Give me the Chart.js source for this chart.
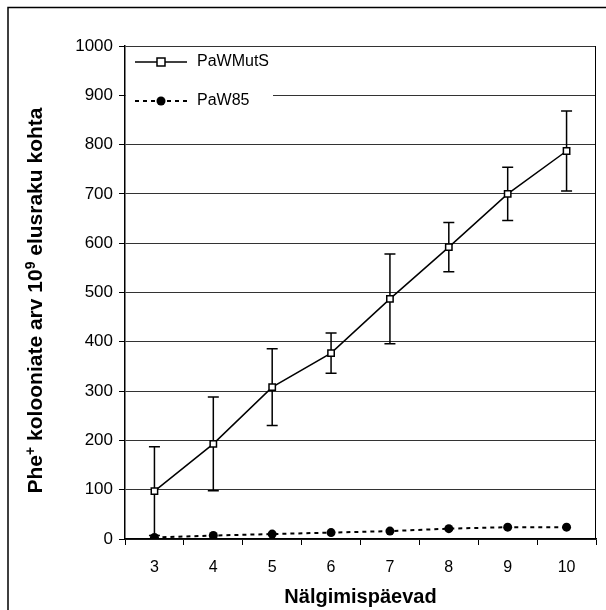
<!DOCTYPE html>
<html>
<head>
<meta charset="utf-8">
<script src="https://cdn.jsdelivr.net/npm/chart.js@4"></script>
<style>
  html, body { margin: 0; padding: 0; background: #fff; }
  canvas { display: block; }
</style>
</head>
<body>
<canvas id="chart" width="606" height="610"></canvas>
<script>
const days = ['3', '4', '5', '6', '7', '8', '9', '10'];
const mutS = [97, 193, 308, 377, 487, 592, 700, 787];
const mutSErr = [90, 95, 78, 41, 91, 50, 54, 81];
const w85 = [3, 7, 10, 13, 16, 21, 24, 24];
const yTicks = [0, 100, 200, 300, 400, 500, 600, 700, 800, 900, 1000];

const FONT = "'Liberation Sans', Arial, sans-serif";

// error bars, legend box, frame and the rotated y title with superscripts
const overlay = {
  id: 'overlay',
  beforeDatasetsDraw(chart) {
    const ctx = chart.ctx;
    const x = chart.scales.x, y = chart.scales.y;
    const area = chart.chartArea;

    // legend box (covers gridlines)
    ctx.save();
    ctx.fillStyle = '#fff';
    ctx.fillRect(area.left + 1, area.top + 1, 147, 72);
    const items = [
      { label: chart.data.datasets[0].label, y: area.top + 16, dash: [], marker: 'rect' },
      { label: chart.data.datasets[1].label, y: area.top + 55, dash: [4, 4], marker: 'circle' }
    ];
    items.forEach(it => {
      ctx.strokeStyle = '#000';
      ctx.lineWidth = it.dash.length ? 2 : 1.5;
      ctx.setLineDash(it.dash);
      ctx.beginPath();
      ctx.moveTo(area.left + 10, it.y);
      ctx.lineTo(area.left + 62, it.y);
      ctx.stroke();
      ctx.setLineDash([]);
      const cx = area.left + 36;
      if (it.marker === 'rect') {
        ctx.fillStyle = '#fff';
        ctx.lineWidth = 1.5;
        ctx.fillRect(cx - 4, it.y - 4, 8, 8);
        ctx.strokeRect(cx - 4, it.y - 4, 8, 8);
      } else {
        ctx.fillStyle = '#000';
        ctx.beginPath();
        ctx.arc(cx, it.y, 4.5, 0, Math.PI * 2);
        ctx.fill();
      }
      ctx.fillStyle = '#000';
      ctx.font = '16px ' + FONT;
      ctx.textBaseline = 'middle';
      ctx.textAlign = 'left';
      ctx.fillText(it.label, area.left + 72, it.y);
    });

    // error bars for PaWMutS
    ctx.strokeStyle = '#000';
    ctx.lineWidth = 1.5;
    mutS.forEach((v, i) => {
      const px = x.getPixelForValue(i);
      const top = y.getPixelForValue(v + mutSErr[i]);
      const bot = y.getPixelForValue(Math.max(0, v - mutSErr[i]));
      ctx.beginPath();
      ctx.moveTo(px, top); ctx.lineTo(px, bot);
      ctx.moveTo(px - 5.5, top); ctx.lineTo(px + 5.5, top);
      ctx.moveTo(px - 5.5, bot); ctx.lineTo(px + 5.5, bot);
      ctx.stroke();
    });
    ctx.restore();
  },
  afterDraw(chart) {
    const ctx = chart.ctx;
    const area = chart.chartArea;
    ctx.save();
    ctx.strokeStyle = '#000';
    ctx.lineWidth = 1;

    // right edge of plot
    ctx.beginPath();
    ctx.moveTo(area.right - 0.5, area.top);
    ctx.lineTo(area.right - 0.5, area.bottom);
    ctx.stroke();

    // outer frame (left and top)
    ctx.lineWidth = 1.5;
    ctx.beginPath();
    ctx.moveTo(8, 610);
    ctx.lineTo(8, 7.5);
    ctx.lineTo(606, 7.5);
    ctx.stroke();

    // y title with superscripts
    const parts = [
      ['Phe', false], ['+', true], [' kolooniate arv 10', false],
      ['9', true], [' elusraku kohta', false]
    ];
    const big = 'bold 21px ' + FONT, small = 'bold 14px ' + FONT;
    let total = 0;
    parts.forEach(p => { ctx.font = p[1] ? small : big; total += ctx.measureText(p[0]).width; });
    ctx.translate(35, (area.top + area.bottom) / 2 + 8);
    ctx.rotate(-Math.PI / 2);
    ctx.fillStyle = '#000';
    ctx.textBaseline = 'alphabetic';
    ctx.textAlign = 'left';
    let cx = -total / 2;
    parts.forEach(p => {
      ctx.font = p[1] ? small : big;
      ctx.fillText(p[0], cx, p[1] ? 0 : 7);
      cx += ctx.measureText(p[0]).width;
    });
    ctx.restore();
  }
};

new Chart(document.getElementById('chart'), {
  type: 'line',
  data: {
    labels: days,
    datasets: [
      {
        label: 'PaWMutS',
        data: mutS,
        borderColor: '#000',
        borderWidth: 1.5,
        pointStyle: 'rect',
        pointRadius: 4.5,
        pointBackgroundColor: '#fff',
        pointBorderColor: '#000',
        pointBorderWidth: 1.5,
        tension: 0
      },
      {
        label: 'PaW85',
        data: w85,
        borderColor: '#000',
        borderWidth: 2,
        borderDash: [4, 4],
        pointStyle: 'circle',
        pointRadius: 4.5,
        pointBackgroundColor: '#000',
        pointBorderColor: '#000',
        pointBorderWidth: 0,
        tension: 0
      }
    ]
  },
  options: {
    responsive: false,
    animation: false,
    devicePixelRatio: 1,
    layout: { padding: { left: 0, top: 46, right: 10, bottom: 0 } },
    plugins: {
      legend: { display: false },
      tooltip: { enabled: false }
    },
    scales: {
      x: {
        offset: true,
        grid: {
          display: true,
          offset: true,
          drawOnChartArea: false,
          drawTicks: true,
          tickLength: 6,
          color: '#000',
          lineWidth: 1
        },
        border: { color: '#000', width: 1.5 },
        ticks: { color: '#000', font: { family: FONT, size: 16 }, padding: 13, maxRotation: 0 },
        title: {
          display: true,
          text: 'Nälgimispäevad',
          color: '#000',
          font: { family: FONT, size: 20, weight: 'bold' },
          padding: { top: 0, bottom: 1 }
        },
        afterFit(scale) { scale.height = 71; }
      },
      y: {
        min: 0,
        max: 1000,
        afterBuildTicks(scale) { scale.ticks = yTicks.map(v => ({ value: v })); },
        grid: {
          color: '#333',
          lineWidth: 1,
          tickLength: 6,
          tickColor: '#000'
        },
        border: { color: '#000', width: 1.5 },
        ticks: {
          color: '#000',
          font: { family: FONT, size: 17 },
          padding: 6,
          callback: (v) => String(v)
        },
        afterFit(scale) { scale.width = 125; }
      }
    }
  },
  plugins: [overlay]
});
</script>
</body>
</html>
